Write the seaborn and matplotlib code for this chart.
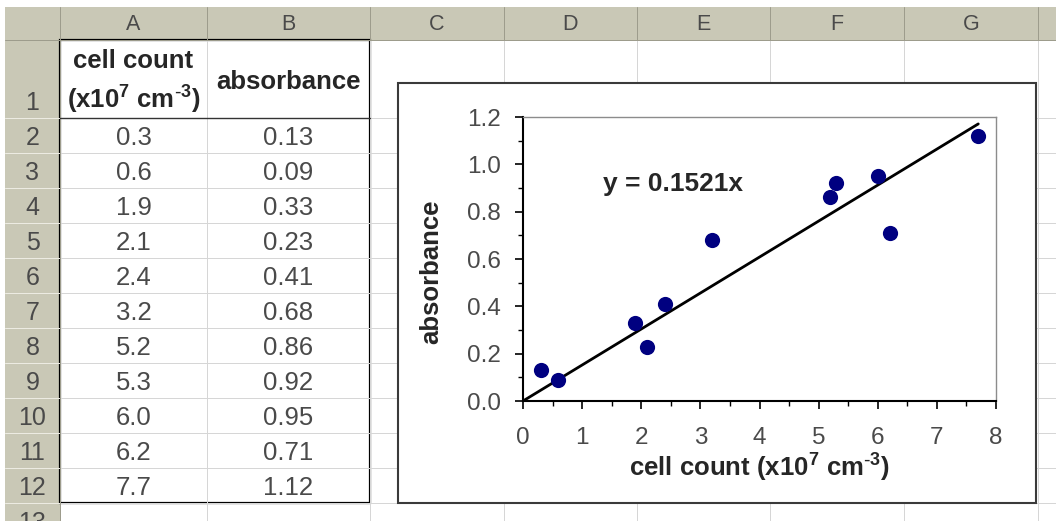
import numpy as np
import matplotlib.pyplot as plt
from matplotlib.patches import Rectangle
from matplotlib.ticker import MultipleLocator, FormatStrFormatter
import seaborn as sns

# Werte aus der Tabelle (Spalte A und B)
cell_count = [0.3, 0.6, 1.9, 2.1, 2.4, 3.2, 5.2, 5.3, 6.0, 6.2, 7.7]
absorbance = [0.13, 0.09, 0.33, 0.23, 0.41, 0.68, 0.86, 0.92, 0.95, 0.71, 1.12]

col_letters = ["A", "B", "C", "D", "E", "F", "G"]
header_a = ["cell count", r"(x10$^7$ cm$^{\text{-}3}$)"]
header_b = "absorbance"
x_title = r"cell count (x10$^7$ cm$^{\text{-}3}$)"
y_title = "absorbance"

sns.set_style("white")
plt.rcParams["font.family"] = ["Liberation Sans", "DejaVu Sans"]
plt.rcParams["mathtext.default"] = "regular"

W, H = 1056, 521
px = 0.72  # ein Pixel in Punkt
col_edges = [60, 207, 370, 504, 637, 770, 904, 1038]
row_edges = [40, 118] + [118 + 35 * i for i in range(1, 13)]

grid = "#d6d6d6"
head = "#c9c8b6"
head_line = "#9d9c8c"
text_grey = "#4a4a4a"

fig = plt.figure(figsize=(W / 100, H / 100), dpi=100)

# Tabellenblatt als Hintergrund (Pixelkoordinaten)
sheet = fig.add_axes([0, 0, 1, 1])
sheet.set_xlim(0, W)
sheet.set_ylim(H, 0)
sheet.axis("off")

# Gitterlinien
for y in row_edges[1:]:
    sheet.plot([60, W], [y, y], color=grid, lw=px)
for x in col_edges[1:]:
    sheet.plot([x, x], [40, H], color=grid, lw=px)

# Spaltenköpfe und Zeilenköpfe
sheet.add_patch(Rectangle((5, 7), W - 5, 33, color=head, lw=0))
sheet.add_patch(Rectangle((5, 7), 55, H - 7, color=head, lw=0))
for x in col_edges[1:]:
    sheet.plot([x, x], [7, 40], color=head_line, lw=px)
for y in row_edges[1:]:
    sheet.plot([5, 60], [y, y], color="#ecebe2", lw=px)
sheet.plot([5, W], [40, 40], color=head_line, lw=px)
sheet.plot([60, 60], [7, H], color=head_line, lw=px)

for i, letter in enumerate(col_letters):
    sheet.text((col_edges[i] + col_edges[i + 1]) / 2, 24, letter, ha="center", va="center",
               fontsize=15.5, color=text_grey)
for r in range(13):
    sheet.text(32.5, row_edges[r + 1] - 8, str(r + 1), ha="center", va="baseline",
               fontsize=18, color=text_grey)

# Tabelleninhalt
ca = (col_edges[0] + col_edges[1]) / 2
cb = (col_edges[1] + col_edges[2]) / 2
sheet.text(ca, 68, header_a[0], ha="center", va="baseline", fontsize=18.5, fontweight="bold")
sheet.text(ca, 109, header_a[1], ha="center", va="baseline", fontsize=18.5, fontweight="bold")
sheet.text(cb, 89, header_b, ha="center", va="baseline", fontsize=18.5, fontweight="bold")
for i in range(len(cell_count)):
    sheet.text(ca, row_edges[i + 2] - 8, f"{cell_count[i]:.1f}", ha="center", va="baseline",
               fontsize=18.5, color=text_grey)
    sheet.text(cb, row_edges[i + 2] - 8, f"{absorbance[i]:.2f}", ha="center", va="baseline",
               fontsize=18.5, color=text_grey)

# Rahmen um die Tabelle
sheet.add_patch(Rectangle((60, 40), 310, 463, fill=False, ec="black", lw=1.6))
sheet.plot([60, 370], [118, 118], color="#333333", lw=1.0)

# Diagrammfläche
sheet.add_patch(Rectangle((398, 83), 638, 420, fc="white", ec="#3a3a3a", lw=1.5, zorder=5))

ax = fig.add_axes([523 / W, 1 - 401 / H, (996 - 523) / W, (401 - 117) / H])
ax.set_facecolor("white")

sns.scatterplot(x=cell_count, y=absorbance, ax=ax, color="#000080", s=120, linewidth=0,
                zorder=3, clip_on=False)

# Trendlinie durch den Ursprung
xv = np.array(cell_count)
yv = np.array(absorbance)
slope = (xv * yv).sum() / (xv * xv).sum()
xs = np.array([0, xv.max()])
ax.plot(xs, slope * xs, color="black", lw=2, zorder=2)
ax.text(1.35, 0.917, f"y = {slope:.4f}x", fontsize=19, fontweight="bold", va="center")

ax.set_xlim(0, 8)
ax.set_ylim(0, 1.2)
ax.xaxis.set_major_locator(MultipleLocator(1))
ax.xaxis.set_minor_locator(MultipleLocator(0.5))
ax.yaxis.set_major_locator(MultipleLocator(0.2))
ax.yaxis.set_minor_locator(MultipleLocator(0.1))
ax.yaxis.set_major_formatter(FormatStrFormatter("%.1f"))

for side in ["left", "bottom"]:
    ax.spines[side].set_color("black")
    ax.spines[side].set_linewidth(1.5)
for side in ["top", "right"]:
    ax.spines[side].set_color("#8c8c8c")
    ax.spines[side].set_linewidth(1.0)

ax.tick_params(which="major", direction="out", length=6, width=1.2, color="black",
               labelsize=17.5, labelcolor=text_grey, left=True, bottom=True)
ax.tick_params(which="minor", direction="out", length=3.6, width=1.0, color="black",
               left=True, bottom=True)
ax.tick_params(axis="x", which="major", pad=13)
ax.tick_params(axis="y", which="major", pad=10)

ax.set_xlabel(x_title, fontsize=18.5, fontweight="bold", va="center")
ax.xaxis.set_label_coords(0.5, -0.236)
ax.set_ylabel(y_title, fontsize=18.5, fontweight="bold", va="center")
ax.yaxis.set_label_coords(-0.1945, 0.454)

fig.savefig("out.png", dpi=100)
